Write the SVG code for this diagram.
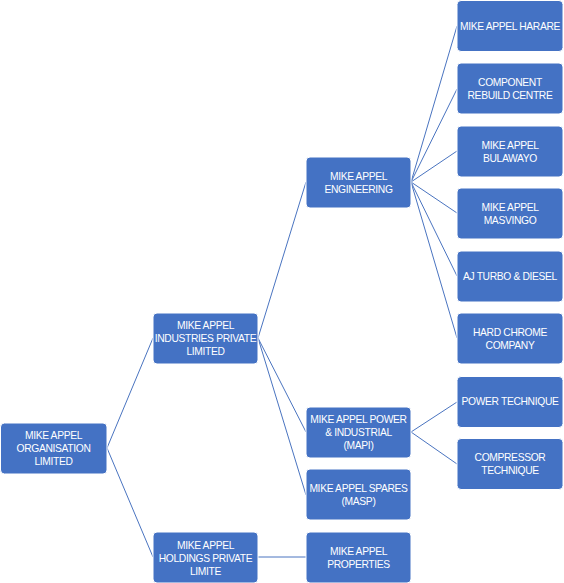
<svg xmlns="http://www.w3.org/2000/svg" width="564" height="583" viewBox="0 0 564 583">
<style>
.b{fill:#4472C4;stroke:#ffffff;stroke-width:1}
.t{font-family:"Liberation Sans",Arial,sans-serif;font-size:10.3px;letter-spacing:-0.35px;fill:#ffffff;text-anchor:middle;dominant-baseline:central}
.c{stroke:#4a74c0;stroke-width:1;fill:none}
</style>
<rect width="564" height="583" fill="#ffffff"/>
<g id="connectors">
<path class="c" d="M107,448 L153,338 M107,448 L153,557"/>
<path class="c" d="M258,338 L306,182 M258,338 L306,432 M258,338 L306,495"/>
<path class="c" d="M258,557 L306,557"/>
<path class="c" d="M411,182 L457,26 M411,182 L457,89 M411,182 L457,151 M411,182 L457,213 M411,182 L457,276 M411,182 L457,338"/>
<path class="c" d="M411,432 L457,402 M411,432 L457,464"/>
</g>
<g id="n-root"><rect class="b" x="0.5" y="423" width="106.5" height="51" rx="4"/><text class="t" x="53.5" y="435">MIKE APPEL</text><text class="t" x="53.5" y="448">ORGANISATION</text><text class="t" x="53.5" y="461">LIMITED</text></g>
<g id="n-industries"><rect class="b" x="153" y="313" width="105" height="51" rx="4"/><text class="t" x="205.5" y="325.5">MIKE APPEL</text><text class="t" x="205.5" y="338.5">INDUSTRIES PRIVATE</text><text class="t" x="205.5" y="351.5">LIMITED</text></g>
<g id="n-holdings"><rect class="b" x="153" y="532" width="105" height="51" rx="4"/><text class="t" x="205.5" y="545">MIKE APPEL</text><text class="t" x="205.5" y="558">HOLDINGS PRIVATE</text><text class="t" x="205.5" y="571">LIMITE</text></g>
<g id="n-engineering"><rect class="b" x="306" y="157" width="105" height="51" rx="4"/><text class="t" x="358.5" y="176">MIKE APPEL</text><text class="t" x="358.5" y="189">ENGINEERING</text></g>
<g id="n-mapi"><rect class="b" x="306" y="407" width="105" height="51" rx="4"/><text class="t" x="358.5" y="419.5">MIKE APPEL POWER</text><text class="t" x="358.5" y="432.5">&amp; INDUSTRIAL</text><text class="t" x="358.5" y="445.5">(MAPI)</text></g>
<g id="n-spares"><rect class="b" x="306" y="469" width="105" height="51" rx="4"/><text class="t" x="358.5" y="488.5">MIKE APPEL SPARES</text><text class="t" x="358.5" y="501.5">(MASP)</text></g>
<g id="n-properties"><rect class="b" x="306" y="532" width="105" height="51" rx="4"/><text class="t" x="358.5" y="551">MIKE APPEL</text><text class="t" x="358.5" y="564">PROPERTIES</text></g>
<g id="n-harare"><rect class="b" x="457" y="0.5" width="106" height="51" rx="4"/><text class="t" x="510" y="26">MIKE APPEL HARARE</text></g>
<g id="n-component"><rect class="b" x="457" y="63" width="106" height="51" rx="4"/><text class="t" x="510" y="82">COMPONENT</text><text class="t" x="510" y="95">REBUILD CENTRE</text></g>
<g id="n-bulawayo"><rect class="b" x="457" y="126" width="106" height="51" rx="4"/><text class="t" x="510" y="145">MIKE APPEL</text><text class="t" x="510" y="158">BULAWAYO</text></g>
<g id="n-masvingo"><rect class="b" x="457" y="188" width="106" height="51" rx="4"/><text class="t" x="510" y="207">MIKE APPEL</text><text class="t" x="510" y="220">MASVINGO</text></g>
<g id="n-ajturbo"><rect class="b" x="457" y="251" width="106" height="51" rx="4"/><text class="t" x="510" y="276.5">AJ TURBO &amp; DIESEL</text></g>
<g id="n-hardchrome"><rect class="b" x="457" y="313" width="106" height="51" rx="4"/><text class="t" x="510" y="332">HARD CHROME</text><text class="t" x="510" y="345">COMPANY</text></g>
<g id="n-power"><rect class="b" x="457" y="376.5" width="106" height="51" rx="4"/><text class="t" x="510" y="401">POWER TECHNIQUE</text></g>
<g id="n-compressor"><rect class="b" x="457" y="438.5" width="106" height="51" rx="4"/><text class="t" x="510" y="457.5">COMPRESSOR</text><text class="t" x="510" y="470.5">TECHNIQUE</text></g>
</svg>
